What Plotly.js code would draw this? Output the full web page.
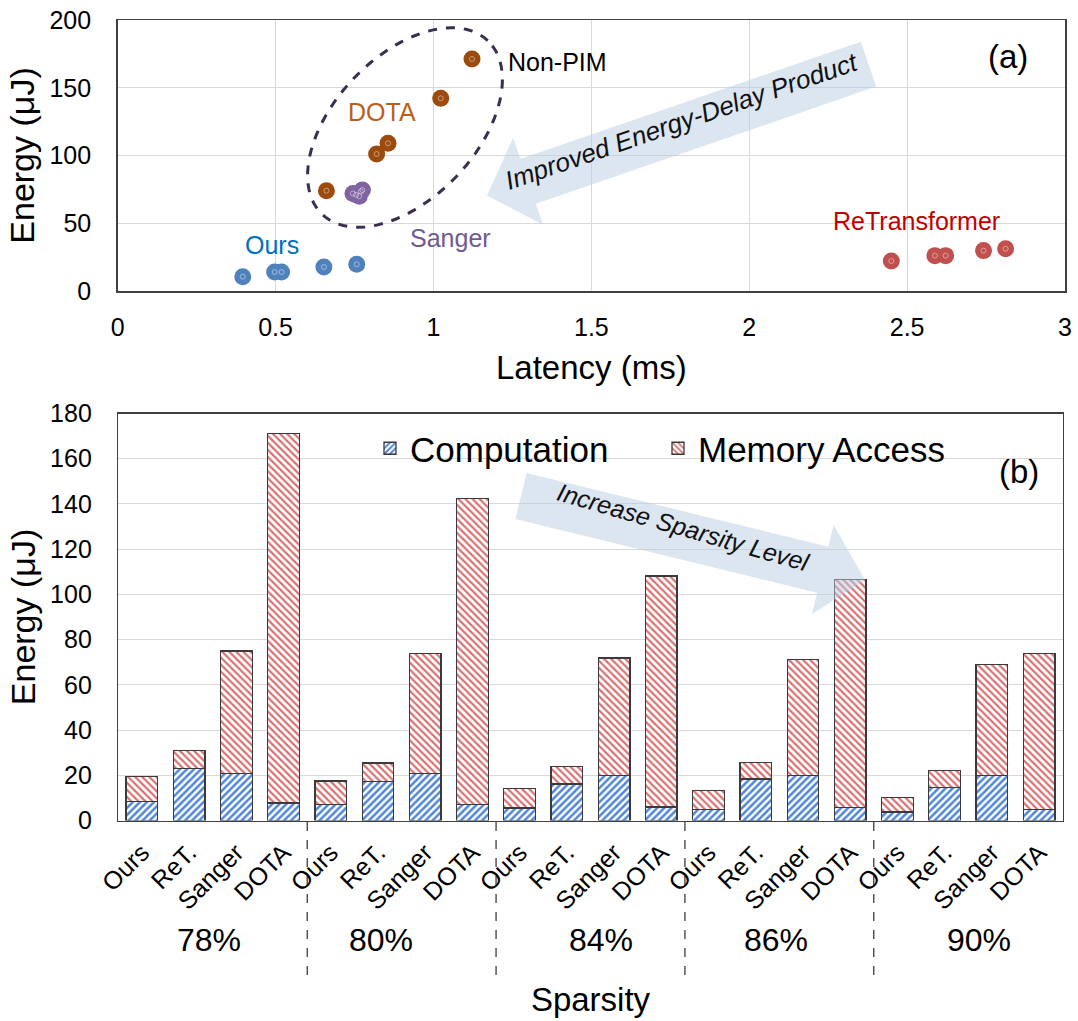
<!DOCTYPE html>
<html><head><meta charset="utf-8">
<script src="https://cdn.plot.ly/plotly-3.0.1.min.js"></script>
<style>html,body{margin:0;padding:0;background:#fff}</style>
</head><body><div id="chart" style="width:1078px;height:1021px"></div>
<script>
// ---------- (a) latency vs energy ----------
const oursLatency   = [0.757, 0.653, 0.519, 0.497, 0.396];
const oursEnergy    = [19.7, 17.7, 14.0, 14.0, 10.6];
const retLatency    = [2.812, 2.622, 2.588, 2.742, 2.450];
const retEnergy     = [31.2, 26.1, 26.1, 29.8, 22.1];
const sangerLatency = [0.775, 0.770, 0.745, 0.755, 0.765];
const sangerEnergy  = [74.5, 73.5, 72.0, 71.0, 70.0];
const dotaLatency   = [1.122, 1.023, 0.856, 0.820, 0.661];
const dotaEnergy    = [171.2, 142.2, 109.0, 101.1, 74.0];

// ---------- (b) energy breakdown ----------
const accelerators   = ['Ours', 'ReT.', 'Sanger', 'DOTA'];
const sparsityLevels = ['78%', '80%', '84%', '86%', '90%'];
const computationEnergy = [8.3, 23.0, 20.9, 7.8,  7.2, 17.1, 20.9, 7.2,  5.5, 16.2, 20.0, 6.0,  5.0, 18.4, 20.0, 5.6,  3.7, 14.7, 20.0, 4.9];
const memoryEnergy      = [11.3, 8.1, 54.1, 163.4,  10.3, 8.3, 53.1, 135.2,  8.7, 7.7, 51.9, 102.2,  8.4, 7.4, 51.1, 101.0,  6.6, 7.3, 49.0, 69.1];

// ---------- helpers (full-figure pixel -> paper) ----------
const W = 1078, H = 1021;
const PX = x => x / W;
const PY = y => 1 - y / H;
const FONT = 'Arial, "Liberation Sans", sans-serif';

const barLabels = [];
const barX = [];
sparsityLevels.forEach((s, gi) => accelerators.forEach((a, ai) => { barLabels.push(a); barX.push(gi * accelerators.length + ai); }));

function pathFrom(pts) {
  return 'M' + pts.map(p => PX(p[0]).toFixed(5) + ',' + PY(p[1]).toFixed(5)).join(' L') + ' Z';
}
function blockArrow(tail, tip, halfShaft, halfHead, headLen) {
  const dx = tip[0] - tail[0], dy = tip[1] - tail[1];
  const L = Math.hypot(dx, dy);
  const d = [dx / L, dy / L], n = [-d[1], d[0]];
  const nk = [tip[0] - d[0] * headLen, tip[1] - d[1] * headLen];
  const P = (b, k) => [b[0] + n[0] * k, b[1] + n[1] * k];
  return pathFrom([P(tail, halfShaft), P(nk, halfShaft), P(nk, halfHead), tip, P(nk, -halfHead), P(nk, -halfShaft), P(tail, -halfShaft)]);
}
function ellipsePath(cx, cy, a, b, thetaDeg) {
  const t = thetaDeg * Math.PI / 180, pts = [];
  for (let i = 0; i < 96; i++) {
    const u = i / 96 * 2 * Math.PI;
    const ex = a * Math.cos(u), ey = b * Math.sin(u);
    pts.push([cx + ex * Math.cos(t) - ey * Math.sin(t), cy - (ex * Math.sin(t) + ey * Math.cos(t))]);
  }
  return pathFrom(pts);
}

function dotTrace(x, y, color, name) {
  return [{
    type: 'scatter', mode: 'markers', x: x, y: y, name: name, showlegend: false,
    xaxis: 'x', yaxis: 'y', marker: {size: 17, color: color, line: {width: 0}}, hoverinfo: 'skip'
  }, {
    type: 'scatter', mode: 'markers', x: x, y: y, showlegend: false, xaxis: 'x', yaxis: 'y',
    marker: {symbol: 'circle-open', size: 5, color: 'rgba(255,255,255,0.55)', line: {width: 0.8}}, hoverinfo: 'skip'
  }];
}

const traces = [
  ...dotTrace(dotaLatency, dotaEnergy, '#9c4a0e', 'DOTA'),
  ...dotTrace(sangerLatency, sangerEnergy, '#8064a2', 'Sanger'),
  ...dotTrace(oursLatency, oursEnergy, '#4f81bd', 'Ours'),
  ...dotTrace(retLatency, retEnergy, '#c0504d', 'ReTransformer'),
  {
    type: 'bar', name: 'Computation', x: barX, y: computationEnergy, xaxis: 'x2', yaxis: 'y2',
    marker: {color: '#ffffff', line: {color: '#3a3a3a', width: 1.3},
      pattern: {shape: '/', fgcolor: '#4f86d9', bgcolor: '#ffffff', size: 5, solidity: 0.5}}
  },
  {
    type: 'bar', name: 'Memory Access', x: barX, y: memoryEnergy, xaxis: 'x2', yaxis: 'y2',
    marker: {color: '#ffffff', line: {color: '#3a3a3a', width: 1.3},
      pattern: {shape: '\\', fgcolor: '#d87272', bgcolor: '#ffffff', size: 5, solidity: 0.45}}
  }
];

const axisCommon = {
  showline: true, mirror: true, linecolor: '#404040', linewidth: 1.5,
  gridcolor: '#d9d9d9', gridwidth: 1, zeroline: false, ticks: '',
  tickfont: {family: FONT, size: 25, color: '#000'}
};

const arrowFill = 'rgba(185,205,227,0.5)';
const shapes = [
  {type: 'path', xref: 'paper', yref: 'paper', layer: 'above', line: {width: 0}, fillcolor: arrowFill,
   path: blockArrow([868.5, 64.2], [487, 195.5], 23.7, 46, 43.5)},
  {type: 'path', xref: 'paper', yref: 'paper', layer: 'above', line: {width: 0}, fillcolor: arrowFill,
   path: blockArrow([521, 496], [865, 580], 23.7, 46, 43.5)},
  {type: 'path', xref: 'paper', yref: 'paper', layer: 'above', fillcolor: 'rgba(0,0,0,0)',
   line: {color: '#3b2f4f', width: 3, dash: 'dash'}, path: ellipsePath(405, 127.5, 120, 71, 46.4)}
];
[3.5, 7.5, 11.5, 15.5].forEach(x => shapes.push({
  type: 'line', xref: 'x2', yref: 'paper', x0: x, x1: x, y0: PY(822), y1: PY(975),
  line: {color: '#000', width: 1, dash: 'dash'}
}));

const ann = (text, x, y, size, color, extra) => Object.assign({
  text: text, xref: 'paper', yref: 'paper', x: PX(x), y: PY(y), showarrow: false,
  xanchor: 'center', yanchor: 'middle', font: {family: FONT, size: size, color: color}
}, extra || {});

const pctX = [1.42, 5.07, 9.72, 13.42, 17.72];
const annotations = [
  ann('Non-PIM', 557, 62, 25, '#000'),
  ann('DOTA', 382, 112, 25, '#b8601a'),
  ann('Ours', 272, 245, 25, '#0070c0'),
  ann('Sanger', 450, 238, 25, '#6f5a93'),
  ann('ReTransformer', 916, 221, 25, '#c00000'),
  ann('(a)', 1008, 57, 33, '#000'),
  ann('(b)', 1019, 472, 33, '#000'),
  ann('<i>Improved Energy-Delay Product</i>', 682, 121, 26, '#111', {textangle: -19}),
  ann('<i>Increase Sparsity Level</i>', 683, 527, 25, '#111', {textangle: 16}),
  ...sparsityLevels.map((s, i) => ({
    text: s, xref: 'x2', yref: 'paper', x: pctX[i], y: PY(940), showarrow: false,
    xanchor: 'center', yanchor: 'middle', font: {family: FONT, size: 32, color: '#000'}
  }))
];

const layout = {
  width: W, height: H, margin: {l: 0, r: 0, t: 0, b: 0},
  paper_bgcolor: '#ffffff', plot_bgcolor: 'rgba(0,0,0,0)',
  font: {family: FONT, color: '#000'},
  barmode: 'stack', bargap: 0.33, hovermode: false,
  xaxis: Object.assign({}, axisCommon, {
    domain: [PX(117.7), PX(1065)], range: [0, 3], dtick: 0.5, anchor: 'y', showgrid: true,
    ticklabelstandoff: 13,
    title: {text: 'Latency (ms)', font: {family: FONT, size: 33, color: '#000'}, standoff: 16}
  }),
  yaxis: Object.assign({}, axisCommon, {
    domain: [PY(291), PY(20)], range: [0, 200], dtick: 50, anchor: 'x', showgrid: true,
    ticklabelstandoff: 20,
    title: {text: 'Energy (μJ)', font: {family: FONT, size: 34, color: '#000'}, standoff: 4}
  }),
  xaxis2: Object.assign({}, axisCommon, {
    domain: [PX(118.3), PX(1062.7)], range: [-0.5, 19.5], anchor: 'y2', showgrid: false,
    tickmode: 'array', tickvals: barX, ticktext: barLabels, tickangle: -45,
    tickfont: {family: FONT, size: 25, color: '#000'}, ticklabelstandoff: 6,
    title: {text: 'Sparsity', font: {family: FONT, size: 33, color: '#000'}, standoff: 74}
  }),
  yaxis2: Object.assign({}, axisCommon, {
    domain: [PY(820.5), PY(413.5)], range: [0, 180], dtick: 20, anchor: 'x2', showgrid: true,
    ticklabelstandoff: 20,
    title: {text: 'Energy (μJ)', font: {family: FONT, size: 34, color: '#000'}, standoff: 4}
  }),
  showlegend: true,
  legend: {orientation: 'h', x: PX(370), y: PY(419), xanchor: 'left', yanchor: 'top',
    bgcolor: 'rgba(0,0,0,0)', font: {family: FONT, size: 35, color: '#000'},
    entrywidth: 243, entrywidthmode: 'pixels', traceorder: 'normal'},
  shapes: shapes,
  annotations: annotations
};

Plotly.newPlot('chart', traces, layout, {displayModeBar: false, staticPlot: true});
</script>
</body></html>
